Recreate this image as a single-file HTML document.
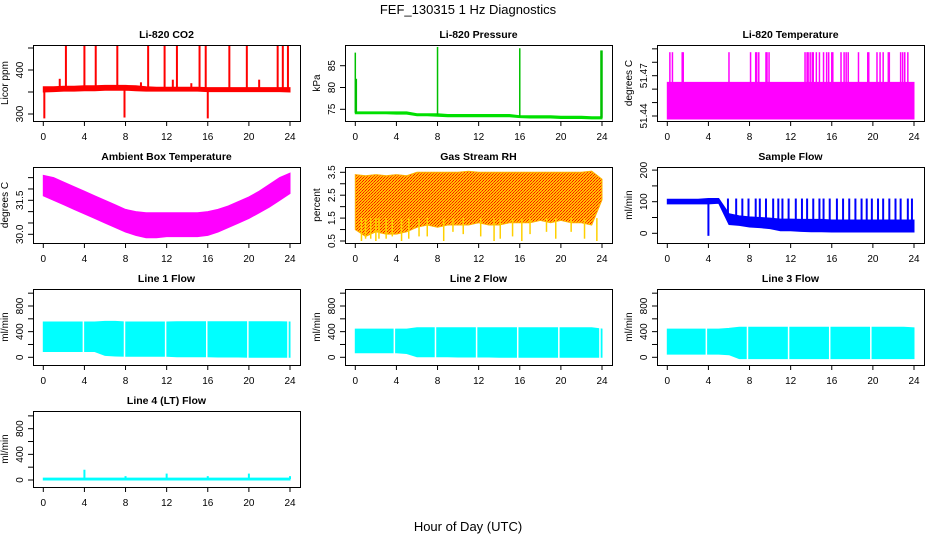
<!DOCTYPE html>
<html><head><meta charset="utf-8"><style>
html,body{margin:0;padding:0;background:#fff}
svg{display:block;font-family:"Liberation Sans",Arial,sans-serif}
</style></head><body>
<svg id="fig" width="936" height="540" viewBox="0 0 936 540">
<defs>
<pattern id="rhpat" width="3" height="3" patternUnits="userSpaceOnUse">
<rect width="3" height="3" fill="#ffc000"/><rect width="1" height="1" fill="#ff1000"/><rect x="2" y="1" width="1" height="1" fill="#ff1000"/><rect x="1" y="2" width="1" height="1" fill="#ff4000"/>
</pattern>
</defs>
<text x="468" y="14" text-anchor="middle" font-size="13">FEF_130315  1 Hz Diagnostics</text>
<text x="468" y="531" text-anchor="middle" font-size="13">Hour of Day (UTC)</text>
</svg>
<script>
const hours = [0,1,2,3,4,5,6,7,8,9,10,11,12,13,14,15,16,17,18,19,20,21,22,23,24];
const xTicks = [0,4,8,12,16,20,24];
// CO2
const co2Lo = [350,351,352,352,353,353,354,354,354,353,352,352,352,352,352,352,351,351,351,351,351,351,351,351,350];
const co2Hi = [362,362,363,363,364,364,365,365,365,364,362,361,361,361,361,361,360,360,360,360,360,360,360,360,360];
const co2SpikeH = [0.1,2.2,4.0,5.1,7.2,7.9,10.2,11.8,13.0,15.2,15.8,16.0,18.1,19.8,22.8,23.3,23.8,1.6,9.5,12.6,14.4,21.0];
const co2SpikeV = [290,456,456,456,456,292,456,456,456,456,456,290,456,456,456,456,456,380,372,378,370,378];
// Pressure
const presLo = [74.0,74.0,74.0,74.0,73.9,73.9,73.5,73.5,73.4,73.3,73.3,73.3,73.3,73.3,73.3,73.3,73.1,73.0,73.0,73.0,72.9,72.9,72.9,72.8,72.8];
const presHi = [74.4,74.4,74.4,74.4,74.4,74.4,74.0,74.0,74.0,73.8,73.8,73.8,73.8,73.8,73.8,73.8,73.5,73.5,73.5,73.5,73.4,73.4,73.4,73.3,73.3];
const presSpikeH = [0.0,0.1,8.0,16.0,23.9,24.0];
const presSpikeV = [88,82,89.3,89,88.5,88.5];
// Li-820 temperature
const ltLo = [51.4378,51.4378,51.4378,51.4378,51.4378,51.4378,51.4378,51.4378,51.4378,51.4378,51.4378,51.4378,51.4378,51.4378,51.4378,51.4378,51.4378,51.4378,51.4378,51.4378,51.4378,51.4378,51.4378,51.4378,51.4378];
const ltHi = [51.465,51.465,51.465,51.465,51.465,51.465,51.465,51.465,51.465,51.465,51.465,51.465,51.465,51.465,51.465,51.465,51.465,51.465,51.465,51.465,51.465,51.465,51.465,51.465,51.465];
const ltSpikeH = [0.25,0.5,1.45,1.55,6.0,8.1,8.6,8.7,8.9,9.6,9.7,9.9,13.4,13.6,13.7,13.9,14.1,14.2,14.5,14.8,15.2,15.5,15.7,16.0,16.1,16.9,17.2,17.4,17.6,18.6,19.5,19.6,20.4,20.7,21.0,21.5,21.6,22.7,22.9,23.1,23.4];
const ltSpikeV = ltSpikeH.map(()=>51.4875);
// Ambient box temperature
const ambHi = [32.6,32.5,32.3,32.1,31.9,31.7,31.5,31.3,31.1,31.0,30.95,30.95,30.95,30.95,30.95,30.95,31.0,31.1,31.25,31.45,31.65,31.9,32.2,32.5,32.7];
const ambLo = [31.7,31.5,31.3,31.1,30.9,30.7,30.5,30.3,30.1,29.95,29.85,29.85,29.9,29.9,29.9,29.9,29.95,30.1,30.3,30.5,30.7,30.95,31.2,31.5,31.8];
// Gas stream RH
const rhHi = [3.4,3.35,3.4,3.35,3.4,3.35,3.5,3.5,3.5,3.5,3.5,3.55,3.5,3.5,3.5,3.5,3.5,3.5,3.5,3.5,3.5,3.5,3.5,3.55,3.2];
const rhLo = [1.0,0.7,0.9,0.8,0.8,0.9,1.1,1.2,1.1,1.2,1.2,1.2,1.3,1.2,1.2,1.3,1.3,1.3,1.4,1.3,1.4,1.3,1.3,1.2,2.3];
const rhDipH = [0.6,1.0,1.5,2.0,2.3,3.0,3.6,4.5,5.2,6.2,7.0,8.6,9.5,10.5,12.2,13.5,14.1,15.3,16.2,17.0,18.6,19.5,21.0,22.3,23.5];
const rhDipV = [0.5,0.6,0.6,0.5,0.6,0.6,0.7,0.5,0.6,0.7,0.7,0.5,0.9,0.8,0.7,0.5,0.6,0.7,0.5,0.8,0.9,0.6,0.9,0.6,0.5];
// Sample flow
const sfLo = [93,93,93,93,93,95,28,25,20,18,15,8,8,6,5,5,4,4,4,4,4,4,4,4,4];
const sfHi = [108,108,108,108,110,110,62,55,52,50,48,45,45,44,44,44,42,42,42,42,42,42,42,42,42];
const sfSpikeH = [4.0,5.9,6.7,7.3,7.9,8.6,9.0,9.6,10.3,10.8,11.2,11.8,12.5,13.1,13.6,14.2,14.8,15.2,15.8,16.5,17.1,17.7,18.3,18.9,19.4,19.9,20.5,21.0,21.6,22.2,22.7,23.4,23.8];
const sfSpikeV = [-8,110,110,110,110,110,110,110,110,110,110,110,110,110,110,110,110,110,110,110,110,110,110,110,110,110,110,110,110,110,110,110,110];
// Line flows
const l1Lo = [90,90,90,90,90,90,30,20,15,15,15,15,15,10,10,10,10,5,5,5,0,0,0,0,0];
const l1Hi = [550,550,550,550,550,550,560,560,550,550,550,550,550,555,555,555,555,555,555,555,555,555,555,555,550];
const l2Lo = [70,70,70,70,70,60,10,10,10,10,5,5,5,5,0,0,0,0,0,0,0,0,0,0,0];
const l2Hi = [440,440,440,440,440,440,460,460,460,460,460,460,460,460,460,460,460,460,460,460,460,460,460,460,440];
const l3Lo = [50,50,50,50,50,50,40,-20,-20,-20,-20,-20,-20,-20,-20,-20,-20,-20,-20,-20,-20,-20,-20,-20,-20];
const l3Hi = [440,440,440,440,440,440,450,470,470,470,470,470,470,470,470,470,470,470,470,470,470,470,470,470,460];
const l4Lo = [0,0,0,0,0,0,0,0,0,0,0,0,0,0,0,0,0,0,0,0,0,0,0,0,0];
const l4Hi = [30,30,30,30,30,30,30,30,30,30,30,30,30,30,30,30,30,30,30,30,30,30,30,30,30];
const l4SpikeH = [4.0,8.0,12.0,16.0,20.0,24.0];
const l4SpikeV = [160,60,100,60,100,60];

const NS = 'http://www.w3.org/2000/svg';
const svg = document.getElementById('fig');
function mk(tag, attrs, parent){
  const e = document.createElementNS(NS, tag);
  for (const k in attrs) e.setAttribute(k, attrs[k]);
  (parent||svg).appendChild(e);
  return e;
}
const colX = [33,345,657], rowY = [45,167,289,411], W = 267, H = 76;

function panel(o){
  const L = colX[o.col], T = rowY[o.row];
  const g = mk('g', {});
  
  
  const xs = h => L + 10.3 + h * 246.7 / 24;
  const ys = v => T + o.p1 + (v - o.v1) * (o.p2 - o.p1) / (o.v2 - o.v1);
  if (o.lo) {
    let d = '';
    hours.forEach((h,i)=>{ d += (i?'L':'M') + xs(h).toFixed(1) + ',' + ys(o.hi[i]).toFixed(1); });
    for (let i = hours.length-1; i >= 0; i--) d += 'L' + xs(hours[i]).toFixed(1) + ',' + ys(o.lo[i]).toFixed(1);
    const b = mk('path', {d: d + 'Z', fill: o.fill || o.color, stroke: o.color, 'stroke-width': 1}, g);
    
    
  }
  if (o.sh) {
    o.sh.forEach((h,i)=>{
      const base = o.sbase !== undefined ? o.sbase : (o.hi[Math.round(h)] + o.lo[Math.round(h)]) / 2;
      const s = mk('line', {x1: xs(h), x2: xs(h), y1: ys(base), y2: ys(o.sv[i]), stroke: o.scolor || o.color, 'stroke-width': o.sw || 2}, g);
      
      
    });
  }
  if (o.gaps) {
    o.gaps.forEach(h=>{
      const s = mk('line', {x1: xs(h), x2: xs(h), y1: T+3, y2: T+H-3, stroke: '#fff', 'stroke-width': 1.5}, g);
      
      
    });
  }
  const box = mk('rect', {x: L+0.5, y: T+0.5, width: W, height: H, fill: 'none', stroke: '#000', 'stroke-width': 1}, g);
  
  
  xTicks.forEach(t=>{
    const x = xs(t);
    mk('line', {x1: x, x2: x, y1: T+H, y2: T+H+5, stroke: '#000'}, g);
    const tx = mk('text', {x: x, y: T+H+19, 'text-anchor': 'middle', 'font-size': 10}, g);
    tx.textContent = t;
    
    
  });
  o.yt.forEach(t=>{
    const y = ys(t);
    mk('line', {x1: L, x2: L-5, y1: y, y2: y, stroke: '#000'}, g);
  });
  o.yl.forEach(t=>{
    const y = ys(t);
    const tx = mk('text', {x: L-10, y: y, 'text-anchor': 'middle', 'font-size': 10, transform: 'rotate(-90 ' + (L-10) + ' ' + y + ')'}, g);
    tx.textContent = t;
    
    
  });
  const yt = mk('text', {x: L-25, y: T+H/2, 'text-anchor': 'middle', 'font-size': 10, transform: 'rotate(-90 ' + (L-25) + ' ' + (T+H/2) + ')'}, g);
  yt.textContent = o.ylab;
  
  
  const tt = mk('text', {x: L + W/2, y: T-7, 'text-anchor': 'middle', 'font-size': 10.5, 'font-weight': 'bold'}, g);
  tt.textContent = o.title;
  
  
}

panel({name:'co2-panel', col:0,row:0,title:'Li-820 CO2',ylab:'Licor ppm',color:'#ff0000',lo:co2Lo,hi:co2Hi,sh:co2SpikeH,sv:co2SpikeV,v1:300,p1:69,v2:400,p2:25,yt:[300,350,400,450],yl:['300','400']});
panel({name:'pressure-panel', col:1,row:0,title:'Li-820 Pressure',ylab:'kPa',color:'#00e000',lo:presLo,hi:presHi,sh:presSpikeH,sv:presSpikeV,v1:75,p1:64.3,v2:85,p2:20.7,yt:[75,80,85],yl:['75','80','85'],scolor:'#00c000',sw:1.5});
panel({name:'li820-temp-panel', col:2,row:0,title:'Li-820 Temperature',ylab:'degrees C',color:'#ff00ff',lo:ltLo,hi:ltHi,sh:ltSpikeH,sv:ltSpikeV,sbase:51.46,v1:51.44,p1:71,v2:51.47,p2:30.7,yt:[51.44,51.45,51.46,51.47,51.48,51.49],yl:['51.44','51.47'],sw:1.5});
panel({name:'ambient-temp-panel', col:0,row:1,title:'Ambient Box Temperature',ylab:'degrees C',color:'#ff00ff',lo:ambLo,hi:ambHi,v1:30,p1:67.3,v2:31.5,p2:33.3,yt:[30,30.5,31,31.5,32,32.5],yl:['30.0','31.5']});
panel({name:'rh-panel', col:1,row:1,title:'Gas Stream RH',ylab:'percent',color:'#ffb000',fill:'url(#rhpat)',lo:rhLo,hi:rhHi,sh:rhDipH,sv:rhDipV,sbase:1.5,scolor:'#ffd000',v1:0.5,p1:74,v2:3.5,p2:5.3,yt:[0.5,1,1.5,2,2.5,3,3.5],yl:['0.5','1.5','2.5','3.5'],sw:1.5});
panel({name:'sample-flow-panel', col:2,row:1,title:'Sample Flow',ylab:'ml/min',color:'#0000ff',lo:sfLo,hi:sfHi,sh:sfSpikeH,sv:sfSpikeV,v1:0,p1:66.3,v2:100,p2:34.7,yt:[0,50,100,150,200],yl:['0','100','200'],sw:2});
panel({name:'line1-flow-panel', col:0,row:2,title:'Line 1 Flow',ylab:'ml/min',color:'#00ffff',lo:l1Lo,hi:l1Hi,gaps:[3.9,7.9,11.9,15.9,19.9,23.8],v1:0,p1:68.3,v2:800,p2:17,yt:[0,200,400,600,800,1000],yl:['0','400','800']});
panel({name:'line2-flow-panel', col:1,row:2,title:'Line 2 Flow',ylab:'ml/min',color:'#00ffff',lo:l2Lo,hi:l2Hi,gaps:[3.8,7.8,11.8,15.8,19.8,23.8],v1:0,p1:68.3,v2:800,p2:17,yt:[0,200,400,600,800,1000],yl:['0','400','800']});
panel({name:'line3-flow-panel', col:2,row:2,title:'Line 3 Flow',ylab:'ml/min',color:'#00ffff',lo:l3Lo,hi:l3Hi,gaps:[3.8,7.8,11.8,15.8,19.8],v1:0,p1:68.3,v2:800,p2:17,yt:[0,200,400,600,800,1000],yl:['0','400','800']});
panel({name:'line4-flow-panel', col:0,row:3,title:'Line 4 (LT) Flow',ylab:'ml/min',color:'#00ffff',lo:l4Lo,hi:l4Hi,sh:l4SpikeH,sv:l4SpikeV,sbase:15,v1:0,p1:69,v2:800,p2:17.7,yt:[0,200,400,600,800,1000],yl:['0','400','800']});
</script>
</body></html>
